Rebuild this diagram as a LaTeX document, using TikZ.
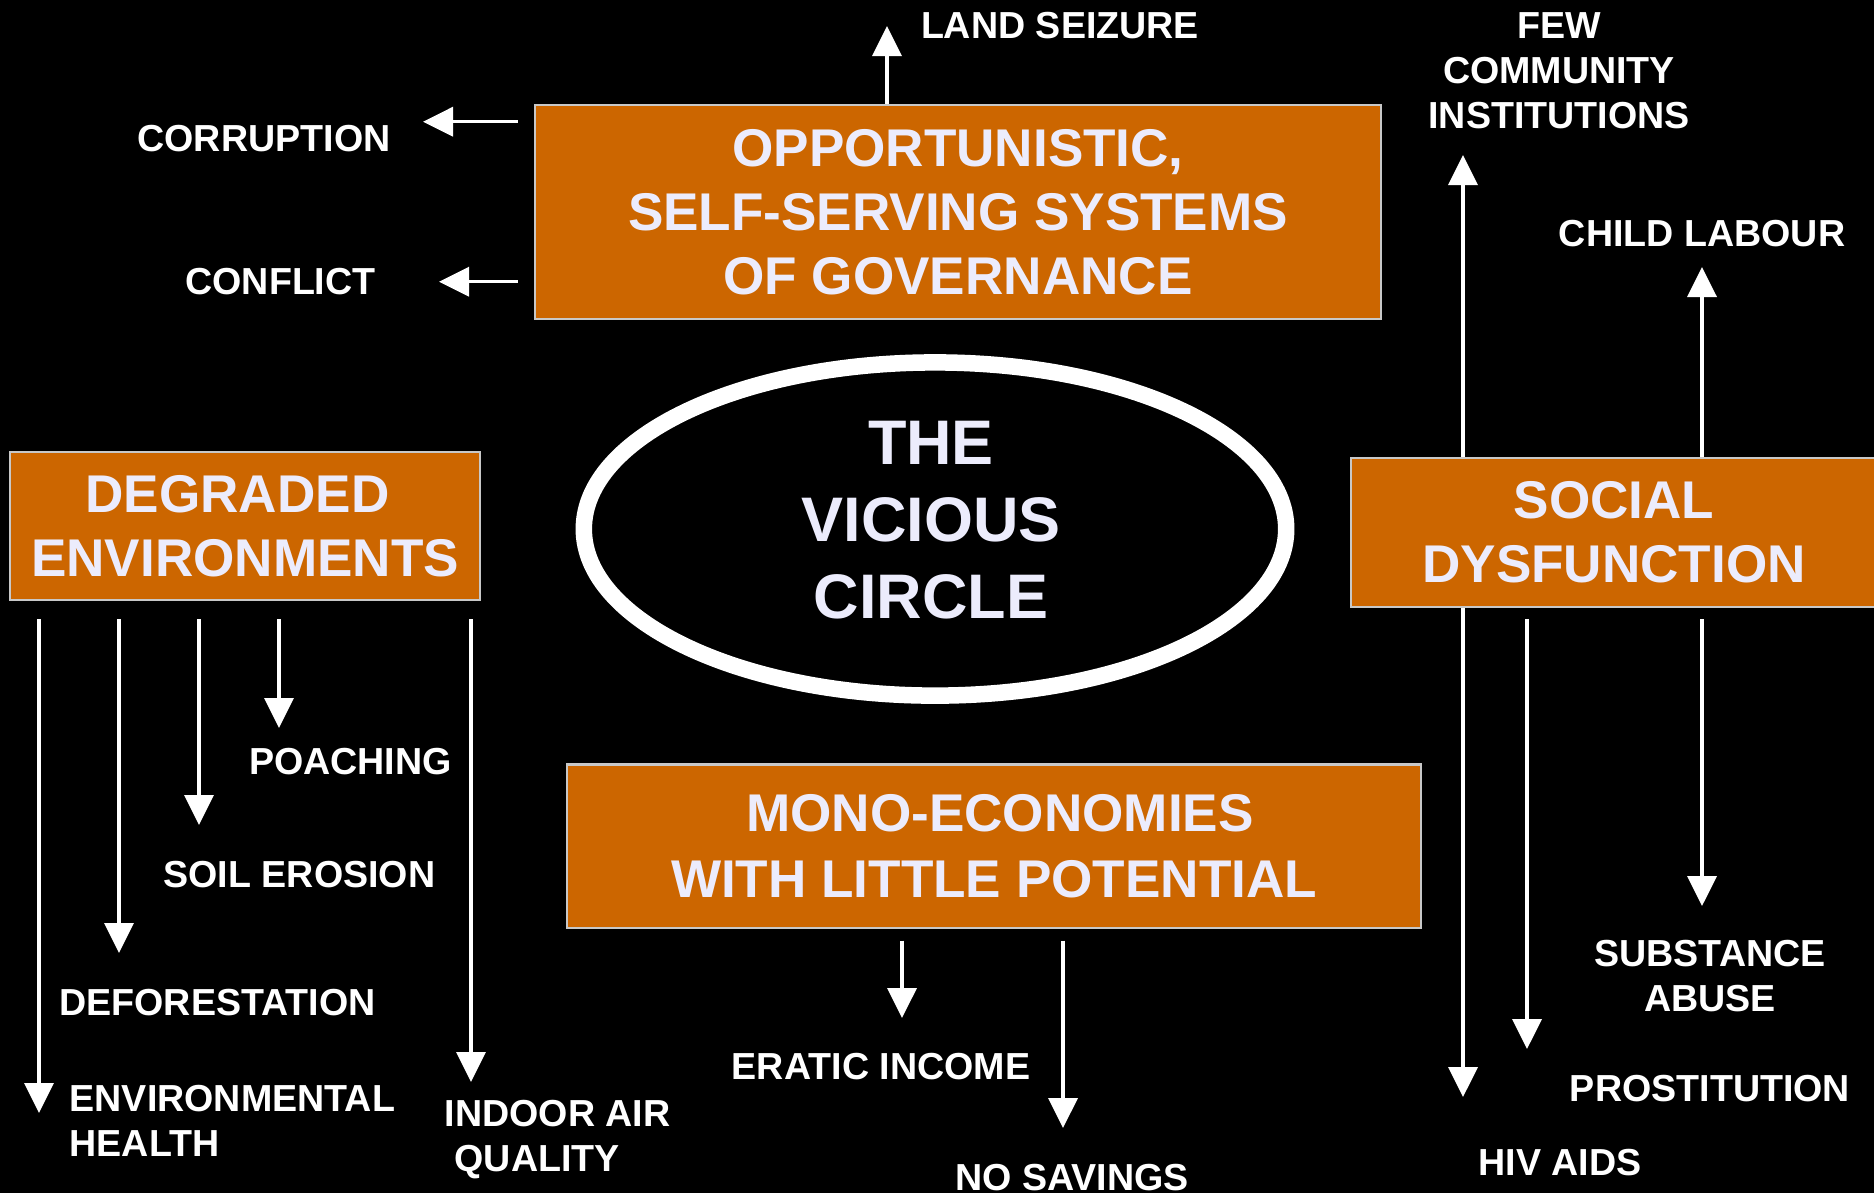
\documentclass[tikz,border=0pt]{standalone}
\usepackage{fontspec}
\setmainfont{Liberation Sans}
\usepackage{tikz}
\usepackage{xcolor}
\definecolor{boxorange}{RGB}{204,102,0}
\definecolor{lavender}{RGB}{236,236,252}
\definecolor{boxline}{RGB}{200,200,200}
\usetikzlibrary{shapes.geometric, arrows.meta, positioning, calc}

\begin{document}
\begin{tikzpicture}[x=0.01cm, y=-0.01cm,
  box/.style={draw=boxline, line width=0.6pt, fill=boxorange, text=lavender, align=center, inner sep=0pt,
    font=\bfseries\fontsize{15.1pt}{18.2pt}\selectfont},
  lbl/.style={text=white, inner sep=0pt, align=center, font=\bfseries\fontsize{10.7pt}{12.8pt}\selectfont},
  arr/.style={draw=white, line width=1pt, -{Triangle[length=0.3cm, width=0.29cm]}}]

% background
\fill[black] (0,0) rectangle (1874,1193);
\useasboundingbox (0,0) rectangle (1874,1193);
\clip (0,0) rectangle (1874,1193);

% the four boxes
\node[box, minimum width=8.46cm, minimum height=2.14cm] (gov) at (958,212) {OPPORTUNISTIC,\\SELF-SERVING SYSTEMS\\OF GOVERNANCE};
\node[box, minimum width=4.70cm, minimum height=1.48cm] (degr) at (245,526) {DEGRADED\hspace*{0.15cm}\\ENVIRONMENTS};
\node[box, minimum width=5.26cm, minimum height=1.49cm] (soc) at (1614,532.5) {SOCIAL\\DYSFUNCTION};
\node[box, minimum width=8.54cm, minimum height=1.63cm, font=\bfseries\fontsize{15.1pt}{18.8pt}\selectfont] (mono) at (994,846) {\hspace*{0.12cm}MONO-ECONOMIES\\WITH LITTLE POTENTIAL};

% the circle
\node[draw=white, line width=0.165cm, ellipse, minimum width=7.02cm, minimum height=3.33cm] (vc) at (935,529) {};
\node[text=lavender, align=center, inner sep=0pt, font=\bfseries\fontsize{17.9pt}{21.9pt}\selectfont] (vc-txt) at (931,520) {THE\\VICIOUS\\CIRCLE};

% labels
\node[lbl] (land) at (1060,26) {LAND SEIZURE};
\node[lbl] (corr) at (264,138.5) {CORRUPTION};
\node[lbl] (confl) at (280.5,281.5) {CONFLICT};
\node[lbl] (few) at (1559,70.5) {FEW\\COMMUNITY\\INSTITUTIONS};
\node[lbl] (child) at (1702,234) {CHILD LABOUR};
\node[lbl] (poach) at (350.5,762) {POACHING};
\node[lbl] (soil) at (299.5,874.5) {SOIL EROSION};
\node[lbl] (defor) at (217.5,1002.5) {DEFORESTATION};
\node[lbl, align=left, anchor=west] (envh) at (69,1120.5) {ENVIRONMENTAL\\HEALTH};
\node[lbl, align=left, anchor=west] (indoor) at (444,1140) {INDOOR AIR\\\hspace*{0.1cm}QUALITY};
\node[lbl] (eratic) at (881,1066.5) {ERATIC INCOME};
\node[lbl] (nosav) at (1072,1177.5) {NO SAVINGS};
\node[lbl] (subst) at (1710,976.5) {SUBSTANCE\\ABUSE};
\node[lbl] (prost) at (1710,1088.5) {PROSTITUTION};
\node[lbl] (hiv) at (1560,1162.5) {HIV AIDS};

% arrow tips
\coordinate (land-tip) at (887,26);
\coordinate (corr-tip) at (423,121.7);
\coordinate (confl-tip) at (439,281.7);
\coordinate (few-tip) at (1463,155);
\coordinate (child-tip) at (1702,267);
\coordinate (envh-tip) at (39,1113);
\coordinate (defor-tip) at (119,953);
\coordinate (soil-tip) at (199,825);
\coordinate (poach-tip) at (279,728);
\coordinate (indoor-tip) at (471,1082);
\coordinate (eratic-tip) at (902,1018);
\coordinate (nosav-tip) at (1063,1128);
\coordinate (hiv-tip) at (1463,1097);
\coordinate (prost-tip) at (1527,1049);
\coordinate (subst-tip) at (1702,906);

% arrows
\draw[arr] (gov.north -| land-tip) -- (land-tip);
\draw[arr] ($(gov.west |- corr-tip)+(-16,0)$) -- (corr-tip);
\draw[arr] ($(gov.west |- confl-tip)+(-16,0)$) -- (confl-tip);
\draw[arr] (soc.north -| few-tip) -- (few-tip);
\draw[arr] (soc.north -| child-tip) -- (child-tip);
\foreach \lb in {envh, defor, soil, poach, indoor}
  \draw[arr] ($(degr.south -| \lb-tip)+(0,18)$) -- (\lb-tip);
\foreach \lb in {eratic, nosav}
  \draw[arr] ($(mono.south -| \lb-tip)+(0,12)$) -- (\lb-tip);
\draw[arr] (soc.south -| hiv-tip) -- (hiv-tip);
\foreach \lb in {prost, subst}
  \draw[arr] ($(soc.south -| \lb-tip)+(0,11)$) -- (\lb-tip);
\end{tikzpicture}
\end{document}
